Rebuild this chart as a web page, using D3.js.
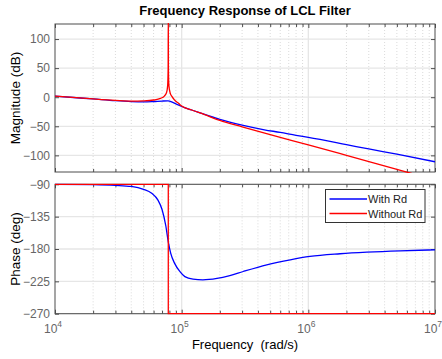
<!DOCTYPE html>
<html>
<head>
<meta charset="utf-8">
<script src="https://cdn.jsdelivr.net/npm/d3@7"></script>
<style>
  body { margin: 0; background: #fff; }
  svg { display: block; font-family: "Liberation Sans", Arial, sans-serif; }
</style>
</head>
<body>
<div id="chart"></div>
<script>
// values (frequency in rad/s, magnitude in dB, phase in deg)
const magWithRd = [
    [1e4, 2], [1.4e4, -0.5], [2e4, -3], [3e4, -6], [4e4, -7.5], [5e4, -8],
    [6e4, -7.4], [7e4, -6.6], [7.8e4, -6.3], [8.5e4, -9], [9.2e4, -12.5],
    [1e5, -16], [1.2e5, -22], [1.5e5, -29], [2e5, -38], [3e5, -48],
    [4.5e5, -56], [6e5, -60.5], [8e5, -65.5], [1e6, -69], [2e6, -81.5],
    [3e6, -89], [5e6, -98], [1e7, -111]
];
const magWithoutRd = [
    [1e4, 2], [2e4, -3], [3e4, -5.5], [4e4, -6.8], [5e4, -6.3], [6e4, -4.8],
    [6.8e4, -2], [7.3e4, 2], [7.6e4, 8], [7.75e4, 20], [7.82e4, 50],
    [7.84e4, 140], [7.86e4, 50], [7.93e4, 20], [8.1e4, 8], [8.4e4, 1],
    [8.8e4, -5], [9.5e4, -11], [1e5, -15], [1.2e5, -22], [1.5e5, -29.5],
    [2e5, -40], [3e5, -51], [5e5, -64.5], [1e6, -82], [2e6, -100],
    [5.8e6, -128], [1e7, -142]
];
const phaseWithRd = [
    [1e4, -90], [2e4, -90.5], [3e4, -91.5], [4e4, -93], [5e4, -97],
    [5.8e4, -102.5], [6.5e4, -112], [7e4, -125], [7.5e4, -148], [7.84e4, -170],
    [8.2e4, -186], [8.8e4, -200], [9.7e4, -211.5], [1.06e5, -218.5],
    [1.23e5, -222], [1.47e5, -223], [1.9e5, -221], [2.4e5, -217],
    [3.06e5, -211.3], [4.7e5, -202], [7.2e5, -195], [1.03e6, -190.3],
    [1.78e6, -186.6], [2.9e6, -184.4], [5.3e6, -182.5], [1e7, -181.2]
];
const phaseWithoutRd = [
    [1e4, -90], [7.84e4, -90], [7.84e4, -270], [1e7, -270]
];
const magTicks = [100, 50, 0, -50, -100];
const phaseTicks = [-90, -135, -180, -225, -270];
const decades = [4, 5, 6, 7];
const legendNames = ["With Rd", "Without Rd"];
const seriesColors = ["#0000ff", "#ff0000"];

const width = 442, height = 359;
const left = 55, right = 435;
const magBox = { top: 24, bottom: 172 };
const phaseBox = { top: 184.3, bottom: 313.7 };

const svg = d3.select("#chart").append("svg")
    .attr("width", width)
    .attr("height", height);

const x = d3.scaleLog().domain([1e4, 1e7]).range([left, right]);
const yMag = d3.scaleLinear().domain([-128.6, 125.9]).range([magBox.bottom, magBox.top]);
const yPhase = d3.scaleLinear().domain([-270, -90]).range([phaseBox.bottom, phaseBox.top]);

const majorX = decades.map((d) => Math.pow(10, d));
const minorX = [];
decades.slice(0, -1).forEach((d) => {
    for (let k = 2; k <= 9; k++) minorX.push(k * Math.pow(10, d));
});

function panel(box, y, yTicks, id) {
    const g = svg.append("g");
    const h = box.bottom - box.top;

    // grid
    g.append("g").selectAll("line").data(minorX).join("line")
        .attr("x1", (d) => x(d)).attr("x2", (d) => x(d))
        .attr("y1", box.top).attr("y2", box.bottom)
        .attr("stroke", "#d0d0d0").attr("stroke-width", 0.8)
        .attr("stroke-dasharray", "1,2");
    g.append("g").selectAll("line").data(majorX.slice(1, -1)).join("line")
        .attr("x1", (d) => x(d)).attr("x2", (d) => x(d))
        .attr("y1", box.top).attr("y2", box.bottom)
        .attr("stroke", "#e6e6e6").attr("stroke-width", 1.3);
    g.append("g").selectAll("line").data(yTicks).join("line")
        .attr("x1", left).attr("x2", right)
        .attr("y1", (d) => y(d)).attr("y2", (d) => y(d))
        .attr("stroke", "#e6e6e6").attr("stroke-width", 1.3);

    // ticks on all four sides, pointing in
    const axes = [
        [d3.axisBottom(x).tickValues(majorX).tickSize(-4), `translate(0,${box.bottom})`],
        [d3.axisBottom(x).tickValues(minorX).tickSize(-3), `translate(0,${box.bottom})`],
        [d3.axisTop(x).tickValues(majorX).tickSize(-4), `translate(0,${box.top})`],
        [d3.axisTop(x).tickValues(minorX).tickSize(-3), `translate(0,${box.top})`],
        [d3.axisRight(y).tickValues(yTicks).tickSize(-4), `translate(${right},0)`]
    ];
    axes.forEach(([ax, tr]) => {
        const a = g.append("g").attr("transform", tr).call(ax.tickFormat(""));
        a.select(".domain").remove();
        a.selectAll("line").attr("stroke", "#4d4d4d");
    });
    const yl = g.append("g").attr("transform", `translate(${left},0)`)
        .call(d3.axisLeft(y).tickValues(yTicks).tickSize(-4).tickPadding(5));
    yl.select(".domain").remove();
    yl.selectAll("line").attr("stroke", "#4d4d4d");
    yl.selectAll("text").attr("fill", "#666").style("font-size", "12px")
        .attr("font-family", "Liberation Sans, Arial, sans-serif");

    g.append("rect")
        .attr("x", left).attr("y", box.top)
        .attr("width", right - left).attr("height", h)
        .attr("fill", "none").attr("stroke", "#4d4d4d").attr("stroke-width", 1);

    svg.append("clipPath").attr("id", id)
        .append("rect").attr("x", left).attr("y", box.top - 1)
        .attr("width", right - left).attr("height", h + 2);
    return g;
}

const gMag = panel(magBox, yMag, magTicks, "clipMag");
const gPhase = panel(phaseBox, yPhase, phaseTicks, "clipPhase");

function drawLine(g, data, y, color, clip, curve) {
    g.append("path")
        .datum(data)
        .attr("clip-path", `url(#${clip})`)
        .attr("fill", "none")
        .attr("stroke", color)
        .attr("stroke-width", 1.3)
        .attr("d", d3.line().x((d) => x(d[0])).y((d) => y(d[1])).curve(curve));
}

drawLine(gMag, magWithRd, yMag, seriesColors[0], "clipMag", d3.curveMonotoneX);
drawLine(gMag, magWithoutRd, yMag, seriesColors[1], "clipMag", d3.curveMonotoneX);
drawLine(gPhase, phaseWithRd, yPhase, seriesColors[0], "clipPhase", d3.curveMonotoneX);
drawLine(gPhase, phaseWithoutRd, yPhase, seriesColors[1], "clipPhase", d3.curveLinear);

// x tick labels, 10^n
const xl = svg.append("g").selectAll("text").data(decades).join("text")
    .attr("x", (d) => x(Math.pow(10, d)) - 2)
    .attr("y", 333)
    .attr("text-anchor", "middle")
    .attr("fill", "#666")
    .style("font-size", "12px");
xl.append("tspan").text("10");
xl.append("tspan").attr("dy", -6).style("font-size", "8.5px").text((d) => d);

// titles and labels
svg.append("text")
    .attr("x", (left + right) / 2).attr("y", 15)
    .attr("text-anchor", "middle")
    .style("font-size", "13px").style("font-weight", "bold")
    .text("Frequency Response of LCL Filter");

svg.append("text")
    .attr("transform", `translate(20,${(magBox.top + magBox.bottom) / 2}) rotate(-90)`)
    .attr("text-anchor", "middle")
    .style("font-size", "13.5px")
    .text("Magnitude (dB)");

svg.append("text")
    .attr("transform", `translate(20,${(phaseBox.top + phaseBox.bottom) / 2}) rotate(-90)`)
    .attr("text-anchor", "middle")
    .style("font-size", "13.5px")
    .text("Phase (deg)");

svg.append("text")
    .attr("x", (left + right) / 2).attr("y", 349)
    .attr("text-anchor", "middle")
    .style("font-size", "13px")
    .style("white-space", "pre")
    .attr("xml:space", "preserve")
    .text("Frequency  (rad/s)");

// legend
const lg = svg.append("g").attr("transform", "translate(325.5,189.5)");
lg.append("rect").attr("width", 99.5).attr("height", 33)
    .attr("fill", "#fff").attr("stroke", "#333").attr("stroke-width", 1);
legendNames.forEach((name, i) => {
    const yy = 9.5 + i * 14.5;
    lg.append("line").attr("x1", 4).attr("x2", 41.5)
        .attr("y1", yy).attr("y2", yy)
        .style("stroke", seriesColors[i]).attr("stroke-width", 1.3);
    lg.append("text").attr("x", 42.5).attr("y", yy + 4)
        .style("font-size", "11px").attr("fill", "#222")
        .text(name);
});
</script>
</body>
</html>
